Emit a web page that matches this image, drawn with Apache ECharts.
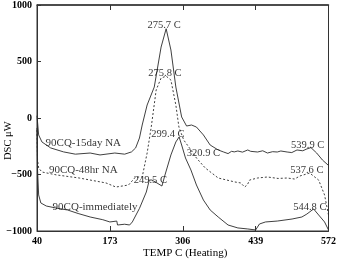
<!DOCTYPE html>
<html><head><meta charset="utf-8">
<script src="https://cdn.jsdelivr.net/npm/echarts@6/dist/echarts.min.js"></script>
<style>html,body{margin:0;padding:0;background:#fff}#c{width:339px;height:263px}</style>
</head><body><div id="c"></div>
<script>
// x tick labels
const xTicks = [40, 173, 306, 439, 572];
const xInnerTicks = [173, 306, 439];

// 90CQ-15day NA
const temp15 = [40, 43, 49, 65, 88.5, 110, 137, 155, 182, 200, 212.5, 220, 227, 232, 241, 254, 266.5, 275.7, 284.4, 293.4, 304, 313, 322, 331, 343.7, 356, 370.7, 380, 388.7, 395, 400, 406.6, 415, 424.6, 430, 442.6, 452, 460.6, 470, 478.5, 485, 496.5, 505, 514.5, 525, 532.5, 539.9, 550.4, 561, 572];
const dsc15 = [20, -150, -212, -265, -300, -320, -310, -327, -310, -320, -300, -265, -177, -62, 115, 274, 628, 790, 602, 274, 9, -71, -62, -80, -150, -239, -283, -300, -315, -295, -300, -292, -302, -283, -295, -301, -290, -310, -298, -301, -292, -301, -306, -283, -290, -274, -262, -310, -372, -420];

// 90CQ-48hr NA
const temp48 = [40, 41, 43, 49, 76, 117, 166, 184, 207, 220, 232, 241, 248.5, 257.5, 266.5, 275.8, 284.4, 293.4, 299, 307.8, 320.9, 331, 347, 370.7, 401, 412, 419, 424, 428, 442.6, 460.6, 480, 496.5, 510, 520, 537.6, 554, 564.8, 572];
const dsc48 = [-106, -372, -442, -478, -504, -531, -575, -611, -593, -522, -522, -310, -80, 248, 354, 370, 336, 115, -80, -195, -283, -354, -442, -531, -566, -575, -611, -590, -549, -531, -522, -535, -531, -540, -513, -487, -549, -681, -858];

// 90CQ-immediately
const tempImm = [40, 41, 43, 47, 57, 78, 95.7, 115, 137, 160, 173, 185.6, 187, 200, 209, 214, 227, 239.5, 245, 249.5, 259, 268, 273.6, 284.4, 293.4, 299.4, 304, 311, 320.9, 331, 343.7, 356, 370.7, 388.7, 406.6, 424.6, 439, 446, 457, 478.5, 505.5, 523.4, 532.5, 544.8, 554, 564.8, 572];
const dscImm = [-88, -460, -681, -752, -779, -800, -814, -845, -876, -900, -920, -912, -947, -940, -947, -920, -800, -655, -549, -549, -575, -602, -504, -327, -212, -168, -239, -354, -460, -593, -726, -814, -876, -947, -973, -982, -991, -938, -920, -912, -894, -876, -850, -805, -858, -920, -991];

// annotations
const annoText = ['275.7 C', '275.8 C', '299.4 C', '320.9 C', '249.5 C', '539.9 C', '537.6 C', '544.8 C', '90CQ-15day NA', '90CQ-48hr NA', '90CQ-immediately'];
const annoX = [271.8, 273.6, 279, 343.7, 246.7, 534, 532.5, 537.8, 124.5, 124.5, 146];
const annoY = [823, 398, -142, -310, -549, -239, -460, -788, -221, -460, -788];
const annoSize = [10.5, 10.5, 10.5, 10.5, 10.5, 10.5, 10.5, 10.5, 11, 11, 11];

const zip = (a, b) => a.map((v, i) => [v, b[i]]);
const FONT = '"Liberation Serif", "DejaVu Serif", serif';
const INK = '#000';

const chart = echarts.init(document.getElementById('c'), null, {renderer: 'canvas'});
chart.setOption({
  animation: false,
  backgroundColor: '#fff',
  grid: {left: 37, top: 5, width: 296, height: 226, show: true, borderColor: '#333', borderWidth: 1, backgroundColor: 'transparent'},
  xAxis: [{
    type: 'value', min: 40, max: 572, position: 'bottom',
    axisLine: {show: true, onZero: false, lineStyle: {color: '#333', width: 1}},
    axisTick: {show: true, inside: true, length: 5, customValues: xInnerTicks, lineStyle: {color: '#333'}},
    axisLabel: {show: true, customValues: xTicks, margin: 5, color: INK, fontFamily: FONT, fontSize: 10, fontWeight: 'bold'},
    splitLine: {show: false}
  }, {
    type: 'value', min: 40, max: 572, position: 'top',
    axisLine: {show: true, onZero: false, lineStyle: {color: '#333', width: 1.5}},
    axisTick: {show: true, inside: true, length: 5, customValues: xInnerTicks, lineStyle: {color: '#333'}},
    axisLabel: {show: false},
    splitLine: {show: false}
  }],
  yAxis: {
    type: 'value', min: -1000, max: 1000, interval: 500,
    axisLine: {show: true, onZero: false, lineStyle: {color: '#333', width: 1}},
    axisTick: {show: true, inside: true, length: 4, lineStyle: {color: '#333'}},
    axisLabel: {margin: 5, color: INK, fontFamily: FONT, fontSize: 10, fontWeight: 'bold', formatter: v => String(v).replace('-', '\u2212')},
    splitLine: {show: false}
  },
  graphic: [
    {type: 'text', left: 143, top: 248, style: {text: 'TEMP C (Heating)', font: '11px ' + FONT, fill: INK}},
    {type: 'text', x: 3, y: 160, rotation: Math.PI / 2, style: {text: 'DSC \u03bcW', font: '10.5px ' + FONT, fill: INK}}
  ],
  series: [
    {type: 'line', name: '90CQ-15day NA', xAxisIndex: 0, data: zip(temp15, dsc15), showSymbol: false, symbol: 'none',
     lineStyle: {color: '#2a2a2a', width: 0.9, type: 'solid'}},
    {type: 'line', name: '90CQ-48hr NA', xAxisIndex: 0, data: zip(temp48, dsc48), showSymbol: false, symbol: 'none',
     lineStyle: {color: '#2a2a2a', width: 0.9, type: [2, 2]}},
    {type: 'line', name: '90CQ-immediately', xAxisIndex: 0, data: zip(tempImm, dscImm), showSymbol: false, symbol: 'none',
     lineStyle: {color: '#2a2a2a', width: 0.9, type: 'solid'}},
    {type: 'scatter', xAxisIndex: 0, symbolSize: 1, itemStyle: {color: 'rgba(0,0,0,0)'}, silent: true, z: 5,
     data: annoText.map((t, i) => ({value: [annoX[i], annoY[i]], name: t,
       label: {show: true, position: 'inside', formatter: t, fontFamily: FONT, fontSize: annoSize[i], color: INK}}))}
  ]
});
</script></body></html>
